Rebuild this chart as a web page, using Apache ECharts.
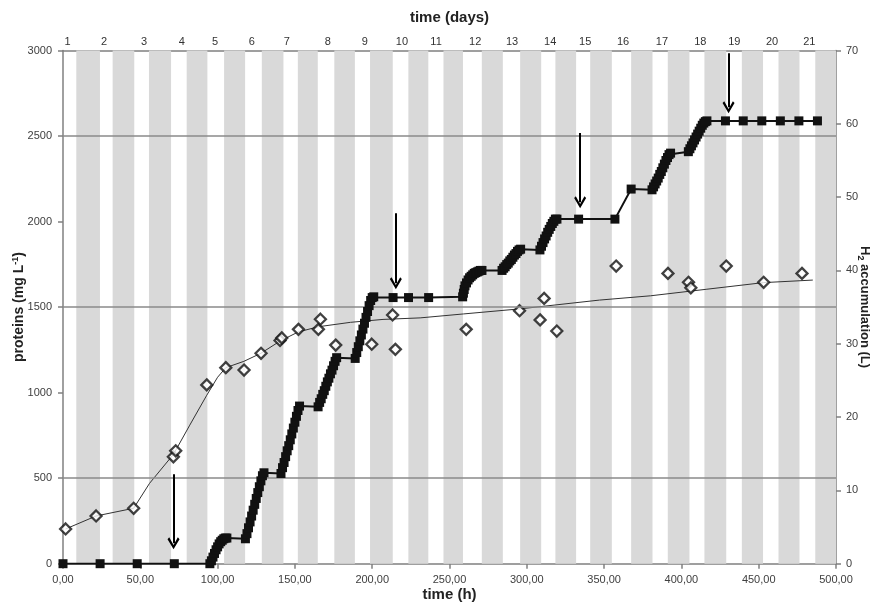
<!DOCTYPE html>
<html>
<head>
<meta charset="utf-8">
<script src="https://cdn.jsdelivr.net/npm/echarts@6/dist/echarts.min.js"></script>
<style>
html,body{margin:0;padding:0;background:#fff;}
#chart{width:873px;height:603px;}
</style>
</head>
<body>
<div id="chart"></div>
<script>
// ---- Data ----
// H2 accumulation (L) vs time (h)
const h2Time = [0,24,48,72,95,
  96,97,98,99,100,101,102,103,104,105,106,
  118,119,120,121,122,123,124,125,126,127,128,129,130,
  141,142,143,144,145,146,147,148,149,150,151,152,153,
  165,166,167,168,169,170,171,172,173,174,175,176,177,
  189,190,191,192,193,194,195,196,197,198,199,200,201,
  213.5,223.5,236.5,
  258.5,259,259.5,260,261,262,263,264,265,266,267,268,269,270,271,
  284,285,286,287,288,289,290,291,292,293,294,295,296,
  308.5,309.5,310.5,311.5,312.5,313.5,314.5,315.5,316.5,317.5,318.5,319.5,
  333.5,357,367.5,
  381,382,383,384,385,386,387,388,389,390,391,392,393,
  404.5,405.5,406.5,407.5,408.5,409.5,410.5,411.5,412.5,413.5,414.5,415.5,416.5,
  428.5,440,452,464,476,488];
const h2Vol = [0,0,0,0,0,
  0.4,0.9,1.4,1.9,2.3,2.7,3.0,3.2,3.4,3.5,3.5,
  3.4,4.1,4.9,5.7,6.5,7.3,8.1,8.9,9.7,10.5,11.3,12.0,12.4,
  12.3,13.1,13.8,14.6,15.4,16.1,16.9,17.7,18.5,19.3,20.1,20.9,21.5,
  21.4,22.0,22.5,23.1,23.6,24.2,24.8,25.3,25.9,26.4,27.0,27.6,28.1,
  28.0,28.8,29.6,30.4,31.2,32.0,32.8,33.6,34.4,35.2,35.9,36.3,36.4,
  36.3,36.3,36.3,
  36.4,36.9,37.4,37.9,38.3,38.7,39.0,39.2,39.4,39.6,39.7,39.8,39.9,40.0,40.0,
  40.0,40.3,40.5,40.8,41.0,41.3,41.5,41.8,42.1,42.3,42.6,42.8,42.9,
  42.8,43.3,43.8,44.3,44.7,45.2,45.6,46.0,46.4,46.7,47.0,47.0,
  47.0,47.0,51.1,
  51.0,51.4,51.8,52.2,52.6,53.1,53.5,54.0,54.5,55.0,55.4,55.8,56.0,
  56.2,56.6,57.0,57.4,57.8,58.2,58.6,59.0,59.4,59.8,60.1,60.3,60.4,
  60.4,60.4,60.4,60.4,60.4,60.4];

// proteins (mg/L) vs time (h)
const proteinTime = [1.7,21.4,45.7,71.4,72.9,93,105.3,117.1,128.1,140.4,141.5,152.3,165.2,166.5,176.4,199.7,213.2,215,260.8,295.3,308.6,311.2,319.4,357.8,391.3,404.6,406.1,429,453.2,478];
const proteinVal  = [203,279,324,625,660,1045,1146,1132,1230,1305,1320,1370,1370,1429,1278,1283,1454,1253,1370,1479,1425,1551,1360,1740,1697,1645,1613,1740,1645,1697];

// protein trend line
const trendTime = [1.7,21.4,45.7,56,71.5,82,93,100,105.3,117,128,140.5,152,165,186,207,231,259,296,347,380,416,453,485];
const trendVal  = [203,279,324,470,640,810,985,1090,1146,1183,1230,1302,1354,1385,1411,1428,1437,1460,1490,1541,1566,1604,1643,1658];

// dark-period bands (h)
const bandStart = [8.6,32.1,55.6,80,104.2,128.6,151.9,175.5,198.6,223.4,246.1,270.9,295.7,318.5,341,367.5,391.2,414.9,439.1,462.8,486.6];
const bandEnd   = [23.9,46.1,69.9,93.4,117.8,142.6,164.8,188.8,213.3,236.3,258.7,284.5,309.3,331.9,355,381.3,405.2,429,452.8,476.4,500];

// top axis (days)
const dayHours  = [3,26.5,52.4,76.8,98.4,122.1,144.7,171.3,195.3,219.2,241.3,266.6,290.5,315.1,337.8,362.3,387.4,412.2,434.2,458.6,482.7];
const dayLabels = ['1','2','3','4','5','6','7','8','9','10','11','12','13','14','15','16','17','18','19','20','21'];

// arrows (h, proteins scale from top to head)
const arrowHours  = [71.5,215.3,334.5,430.5];
const arrowTop    = [523,2048,2518,2984];
const arrowBottom = [119,1639,2113,2668];

// horizontal reference lines (proteins scale)
const gridLevels = [500,1500,2500];

// ---- Chart ----
const chart = echarts.init(document.getElementById('chart'), null, {renderer:'canvas'});
const labelFont = {fontFamily:'Liberation Sans', fontSize:11, color:'#404040'};
const axisLineStyle = {color:'#808080', width:1.5};
const chevron = 'path://M5,0 L10,8.5 L8.6,10 L5,3.6 L1.4,10 L0,8.5 Z';
const plain = v => String(v);

const option = {
  animation:false,
  backgroundColor:'#ffffff',
  grid:{left:63, right:37, top:50.5, bottom:39.3, containLabel:false, outerBoundsMode:'none'},
  xAxis:[
    {type:'value', position:'bottom', min:0, max:500, interval:50,
     name:'time (h)', nameLocation:'middle', nameGap:24, nameMoveOverlap:false,
     nameTextStyle:{fontFamily:'Liberation Sans', fontSize:15, fontWeight:'bold', color:'#222'},
     axisLine:{show:true, onZero:false, lineStyle:axisLineStyle},
     axisTick:{show:true, length:5, inside:false, lineStyle:axisLineStyle},
     axisLabel:Object.assign({margin:11, showMinLabel:true, showMaxLabel:true,
        formatter:v=>v.toFixed(2).replace('.',',')}, labelFont),
     splitLine:{show:false}},
    {type:'value', position:'top', min:0, max:500,
     name:'time (days)', nameLocation:'middle', nameGap:25, nameMoveOverlap:false,
     nameTextStyle:{fontFamily:'Liberation Sans', fontSize:15, fontWeight:'bold', color:'#222'},
     axisLine:{show:true, onZero:false, lineStyle:axisLineStyle},
     axisTick:{show:false},
     axisLabel:Object.assign({margin:3, customValues:dayHours, showMinLabel:true, showMaxLabel:true,
        formatter:v=>{const i=dayHours.indexOf(v); return i>=0?dayLabels[i]:'';}}, labelFont, {color:'#333'}),
     splitLine:{show:false}}
  ],
  yAxis:[
    {type:'value', position:'left', min:0, max:3000, interval:500,
     name:'{a|proteins (mg L}{s|-1}{a|)}', nameLocation:'middle', nameGap:35, nameRotate:90, nameMoveOverlap:false,
     nameTextStyle:{rich:{
        a:{fontFamily:'Liberation Sans', fontSize:14, fontWeight:'bold', color:'#222'},
        s:{fontFamily:'Liberation Sans', fontSize:9, fontWeight:'bold', color:'#222', verticalAlign:'top', padding:[0,0,8,0]}}},
     axisLine:{show:true, onZero:false, lineStyle:axisLineStyle},
     axisTick:{show:true, length:5, inside:false, lineStyle:axisLineStyle},
     axisLabel:Object.assign({margin:11, showMinLabel:true, showMaxLabel:true, formatter:plain}, labelFont),
     splitLine:{show:false}},
    {type:'value', position:'right', min:0, max:70, interval:10,
     name:'{a|H}{s|2}{a| accumulation (L)}', nameLocation:'middle', nameGap:20, nameRotate:-90, nameMoveOverlap:false,
     nameTextStyle:{rich:{
        a:{fontFamily:'Liberation Sans', fontSize:13, fontWeight:'bold', color:'#222'},
        s:{fontFamily:'Liberation Sans', fontSize:9, fontWeight:'bold', color:'#222', padding:[8,0,0,0]}}},
     axisLine:{show:true, onZero:false, lineStyle:axisLineStyle},
     axisTick:{show:true, length:5, inside:false, lineStyle:axisLineStyle},
     axisLabel:Object.assign({margin:10, showMinLabel:true, showMaxLabel:true, formatter:plain}, labelFont),
     splitLine:{show:false}}
  ],
  series:[
    {name:'bands', type:'line', data:[], xAxisIndex:0, yAxisIndex:0, z:0, silent:true,
     markArea:{silent:true, itemStyle:{color:'#d9d9d9'},
       data:bandStart.map((s,i)=>[{xAxis:s},{xAxis:bandEnd[i]}])}},
    {name:'levels', type:'line', data:[], xAxisIndex:0, yAxisIndex:0, z:1, silent:true,
     markLine:{silent:true, symbol:['none','none'], label:{show:false},
       lineStyle:{color:'#8a8a8a', width:1.5, type:'solid'},
       data:gridLevels.map(v=>({yAxis:v}))}},
    {name:'trend', type:'line', xAxisIndex:0, yAxisIndex:0, z:3, silent:true,
     data:trendTime.map((t,i)=>[t,trendVal[i]]), showSymbol:false, smooth:false,
     lineStyle:{color:'#333', width:1}},
    {name:'proteins', type:'scatter', xAxisIndex:0, yAxisIndex:0, z:4,
     data:proteinTime.map((t,i)=>[t,proteinVal[i]]),
     symbol:'diamond', symbolSize:11,
     itemStyle:{color:'#ffffff', borderColor:'#111', borderWidth:2.3}},
    {name:'H2', type:'line', xAxisIndex:0, yAxisIndex:1, z:5,
     data:h2Time.map((t,i)=>[t,h2Vol[i]]),
     symbol:'rect', symbolSize:9, showAllSymbol:true,
     itemStyle:{color:'#111'}, lineStyle:{color:'#111', width:2}},
    {name:'arrows', type:'line', data:[], xAxisIndex:0, yAxisIndex:0, z:6, silent:true,
     markLine:{silent:true, symbol:['none', chevron], symbolSize:[12,12], label:{show:false},
       lineStyle:{color:'#000', width:2, type:'solid'},
       emphasis:{disabled:true},
       data:arrowHours.map((h,i)=>[{coord:[h,arrowTop[i]]},{coord:[h,arrowBottom[i]]}])}}
  ]
};
chart.setOption(option);
</script>
</body>
</html>
